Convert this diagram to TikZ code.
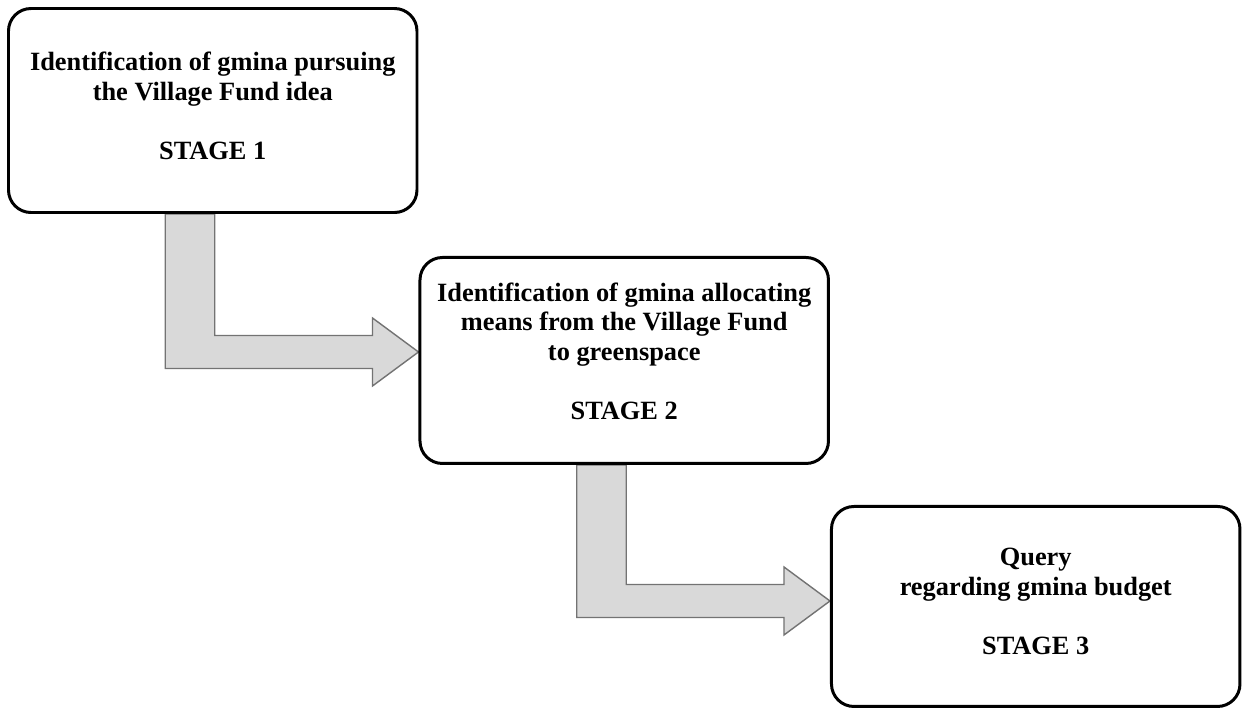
\documentclass[tikz,border=0pt]{standalone}
\usepackage{fontspec}
\setmainfont{Liberation Serif}
\usetikzlibrary{positioning, calc, backgrounds}

\begin{document}
\begin{tikzpicture}[node distance=0.8cm,
    stage/.style = {draw, line width=1.7pt, rectangle, rounded corners=0.45cm,
                    fill=white, minimum width=8.17cm, align=center, text depth=0.2cm,
                    font=\fontsize{15}{16.8}\selectfont\bfseries},
    bigarrow/.style = {draw=black!55, line width=0.8pt, fill=gray!30}]

    \useasboundingbox (0,0) rectangle (24.88,-14.22);

    % Stages
    \node [stage, minimum height=4.08cm, anchor=north west] (s1) at (0.14,-0.14)
        {Identification of gmina pursuing\\the Village Fund idea\\[16.8pt]STAGE 1};
    \node [stage, minimum height=4.12cm, text depth=0.38cm] (s2) [below right=0.84cm and 0cm of s1]
        {Identification of gmina allocating\\means from the Village Fund\\to greenspace\\[16.8pt]STAGE 2};
    \node [stage, minimum height=4.0cm] (s3) [below right=0.8cm and 0cm of s2]
        {Query\\regarding gmina budget\\[16.8pt]STAGE 3};

    % Transitions
    \begin{scope}[on background layer]
    \foreach \a/\b in {s1/s2, s2/s3}
        \draw [bigarrow] let \p1 = (\a.south), \p2 = ([yshift=-1.92cm]\b.north west) in
            (\x1-0.95cm,\y1) -- (\x1-0.95cm,\y2-0.33cm) -- (\x2-0.92cm,\y2-0.33cm)
            -- (\x2-0.92cm,\y2-0.68cm) -- (\x2,\y2) -- (\x2-0.92cm,\y2+0.68cm)
            -- (\x2-0.92cm,\y2+0.33cm) -- (\x1+0.04cm,\y2+0.33cm) -- (\x1+0.04cm,\y1) -- cycle;
    \end{scope}
\end{tikzpicture}
\end{document}
